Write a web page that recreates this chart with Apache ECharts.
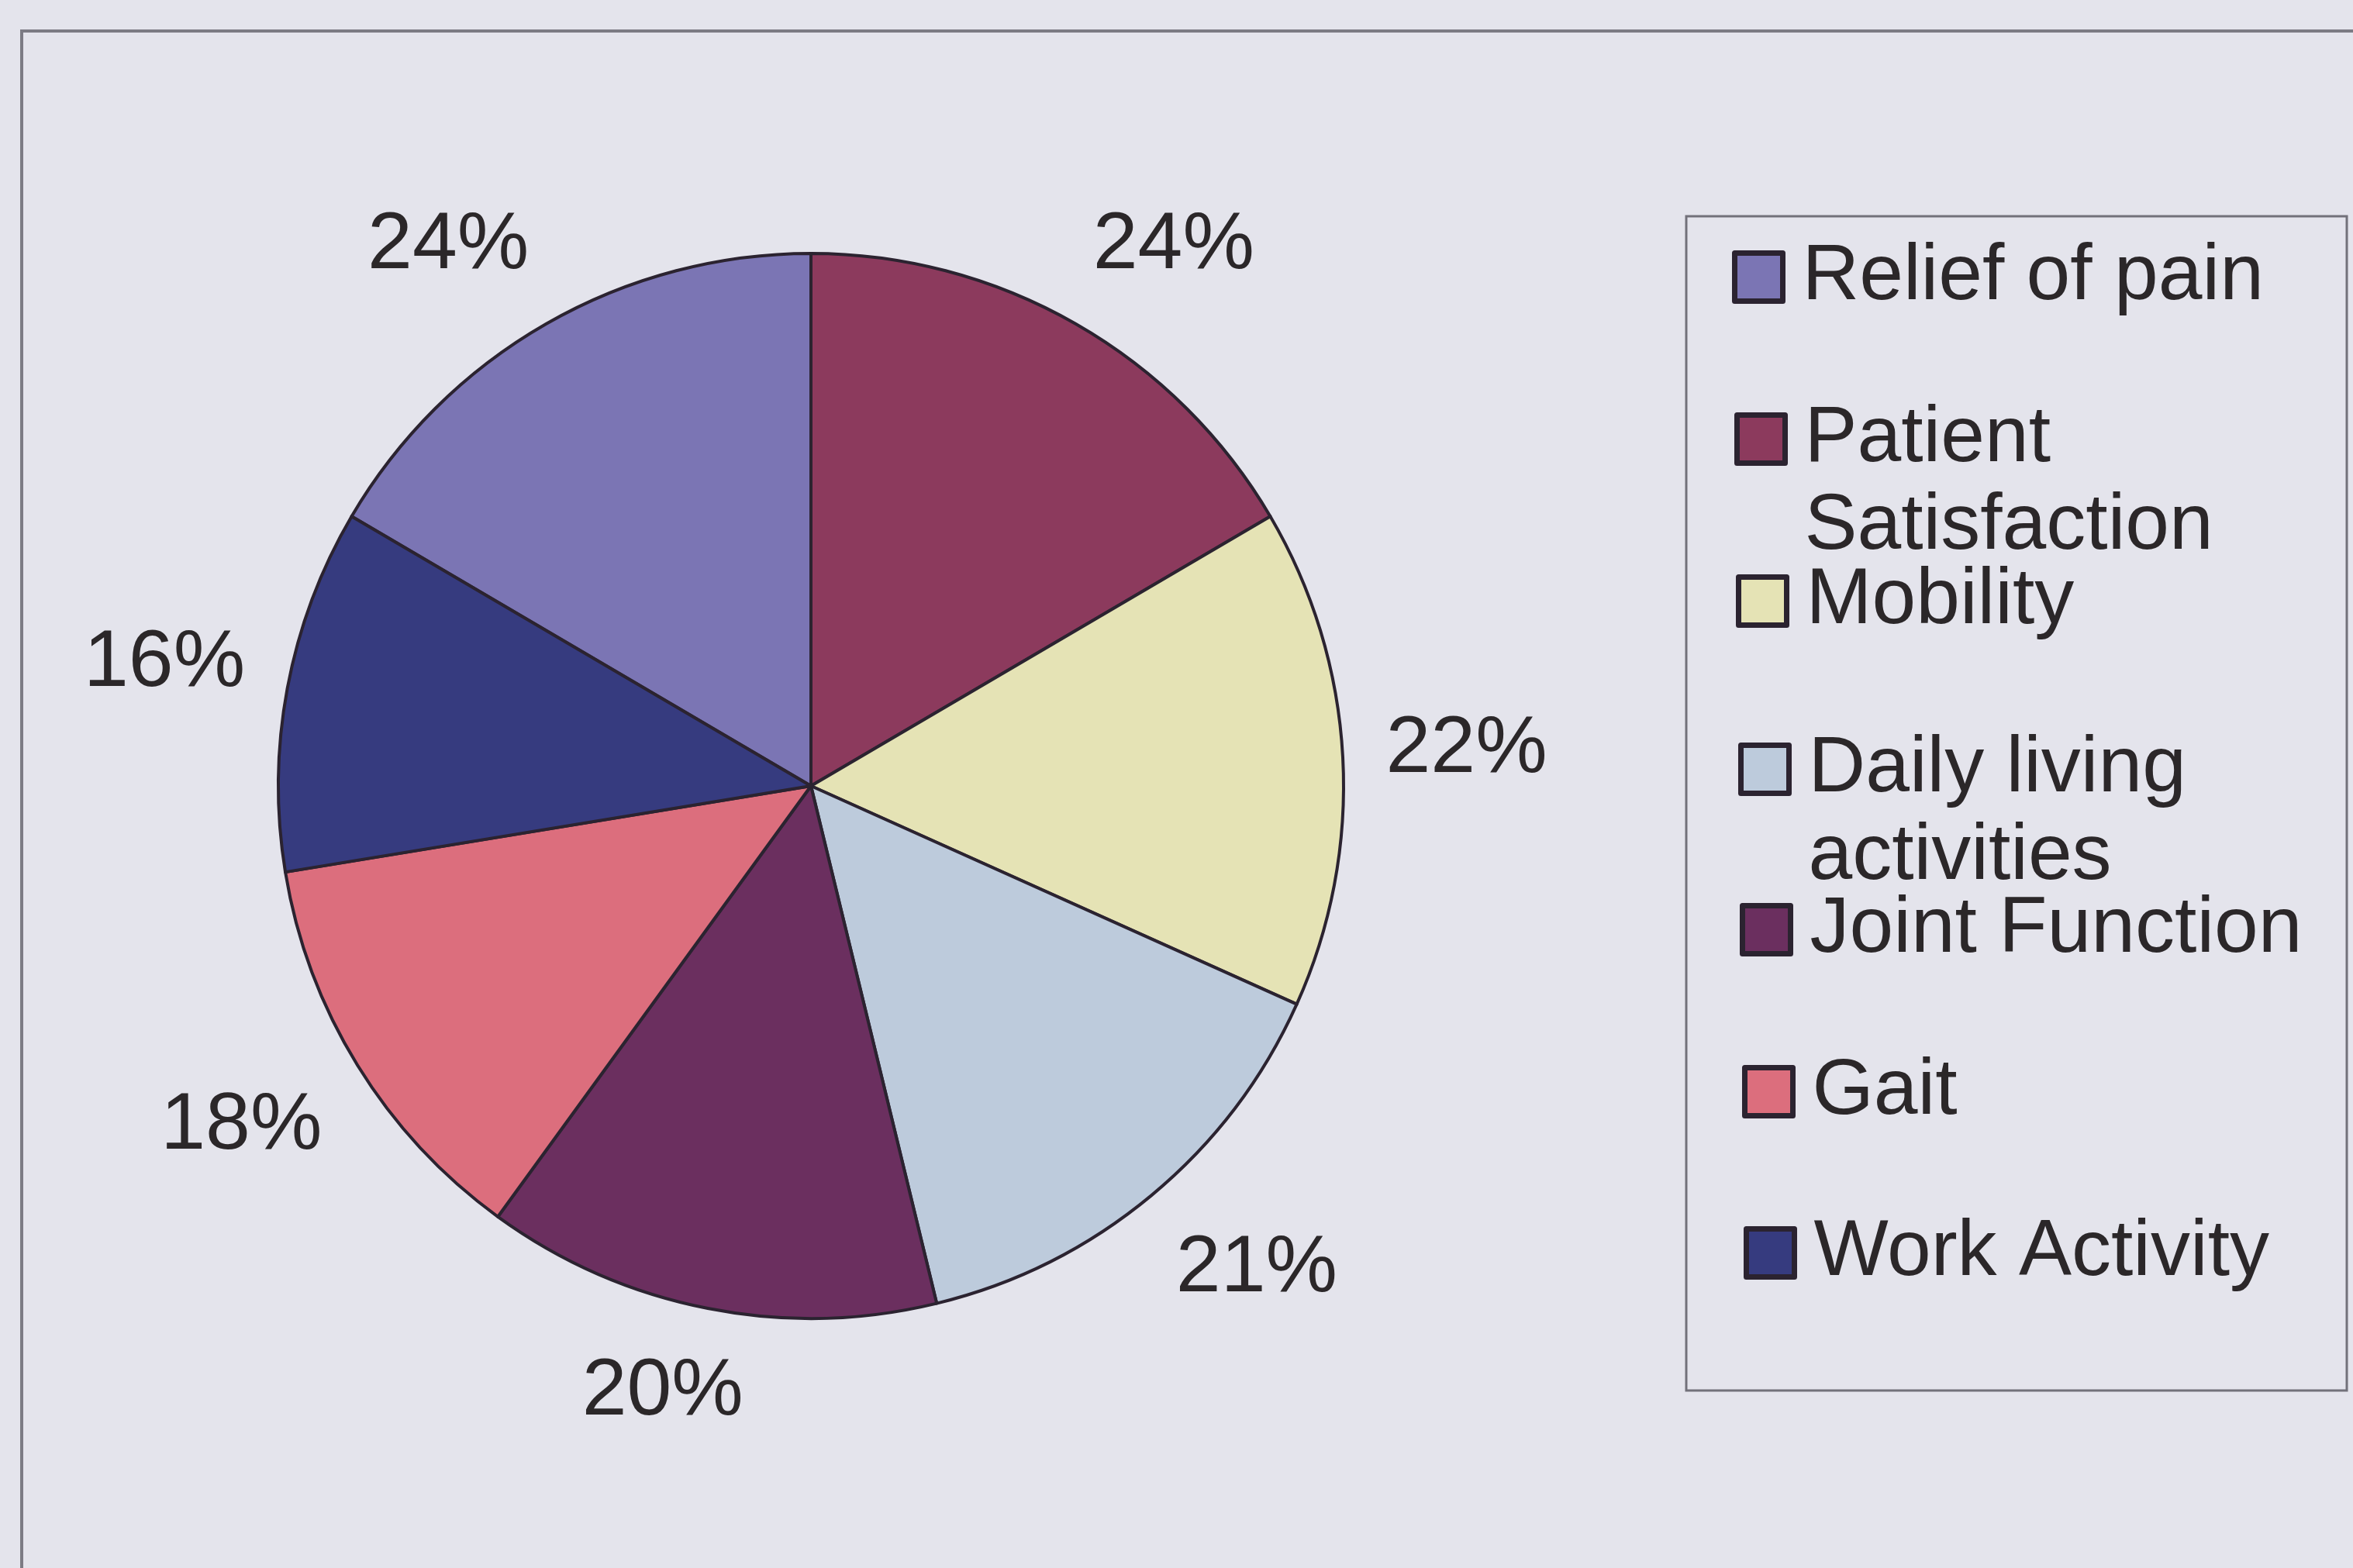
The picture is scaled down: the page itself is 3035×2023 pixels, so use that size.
<!DOCTYPE html>
<html>
<head>
<meta charset="utf-8">
<script src="https://cdn.jsdelivr.net/npm/echarts@6/dist/echarts.min.js"></script>
<style>
  html, body { margin: 0; padding: 0; background: #e4e4ec; }
  #chart { width: 3035px; height: 2023px; }
</style>
</head>
<body>
<div id="chart"></div>
<script>
// Outcome domains and their shares (%)
const categories = ['Relief of pain', 'Patient Satisfaction', 'Mobility', 'Daily living activities', 'Joint Function', 'Gait', 'Work Activity'];
const values = [24, 24, 22, 21, 20, 18, 16];
const colors = ['#7b75b4', '#8c3a5d', '#e5e3b5', '#bdcbdc', '#6b2f5f', '#dc6e7d', '#363b7f'];

// Vertical centre of the first text line of each legend entry
const legendCenters = [352, 561, 770, 987, 1194, 1403, 1611];

const FONT = '"Liberation Sans", Arial, Helvetica, sans-serif';
const TEXT = '#2b2729';
const EDGE = '#2b2330';

const total = values.reduce((a, b) => a + b, 0);
// First slice ends at 12 o'clock, the rest run clockwise from there
const startAngle = 90 + values[0] / total * 360;

const pieCenter = [1046, 1014];
const pieRadius = 687;
const labelRadius = 750;

const SWATCH = 62;
const LINE_H = 113;

const wrapName = name => name.replace('Patient ', 'Patient\n').replace('living ', 'living\n');

const slices = categories.map((name, i) => ({ name, value: values[i], itemStyle: { color: colors[i] } }));

const legends = categories.map((name, i) => {
  const lines = wrapName(name).split('\n').length;
  // the icon box grows with the text so the swatch stays level with the first line
  const boxH = SWATCH + (lines - 1) * LINE_H;
  return {
    data: [name],
    orient: 'vertical',
    left: 2234 + Math.round((legendCenters[i] - legendCenters[0]) * 0.012),
    top: legendCenters[i] - 51,
    padding: 0,
    itemWidth: SWATCH,
    itemHeight: boxH,
    icon: 'path://M0,0H' + SWATCH + 'V' + SWATCH + 'H0Z' + (boxH > SWATCH ? 'M0,' + boxH : ''),
    selectedMode: false,
    itemStyle: { borderColor: EDGE, borderWidth: 7 },
    formatter: wrapName,
    textStyle: {
      fontFamily: FONT,
      fontSize: 102,
      lineHeight: LINE_H,
      color: TEXT,
      padding: [0, 0, 0, 20]
    }
  };
});

const clamp = v => Math.max(-1, Math.min(1, v));

const chart = echarts.init(document.getElementById('chart'), null, { renderer: 'canvas' });
chart.setOption({
  backgroundColor: '#e4e4ec',
  animation: false,
  color: colors,
  graphic: [
    {
      type: 'rect', z: -1,
      shape: { x: 28, y: 40, width: 3200, height: 2200 },
      style: { fill: 'none', stroke: '#7c7b84', lineWidth: 4 }
    },
    {
      type: 'rect', z: -1,
      shape: { x: 2175, y: 279, width: 852, height: 1515 },
      style: { fill: 'none', stroke: '#72717a', lineWidth: 3 }
    }
  ],
  legend: legends,
  series: [
    {
      name: 'Outcome domains',
      type: 'pie',
      center: pieCenter,
      radius: pieRadius,
      startAngle: startAngle,
      clockwise: true,
      silent: true,
      z: 3,
      itemStyle: { borderColor: EDGE, borderWidth: 4 },
      label: { show: false },
      labelLine: { show: false },
      emphasis: { disabled: true },
      data: slices
    },
    {
      // Transparent ring just outside the pie; its mid-radius anchors the percentage labels
      name: 'Labels',
      type: 'pie',
      center: pieCenter,
      radius: [pieRadius, 2 * labelRadius - pieRadius],
      startAngle: startAngle,
      clockwise: true,
      silent: true,
      z: 2,
      itemStyle: { color: 'rgba(0,0,0,0)', borderWidth: 0 },
      label: {
        show: true,
        position: 'inside',
        formatter: '{c}%',
        fontFamily: FONT,
        fontSize: 104,
        color: TEXT
      },
      labelLine: { show: false },
      // push each label box outward so its inner corner sits on the anchor
      labelLayout: function (params) {
        const r = params.labelRect;
        const dxC = r.x + r.width / 2 - pieCenter[0];
        const dyC = r.y + r.height / 2 - pieCenter[1];
        const d = Math.sqrt(dxC * dxC + dyC * dyC) || 1;
        return {
          dx: r.width * 0.45 * clamp(2.5 * dxC / d),
          dy: r.height * 0.42 * clamp(2.5 * dyC / d)
        };
      },
      emphasis: { disabled: true },
      data: categories.map((name, i) => ({ name, value: values[i] }))
    }
  ]
});
</script>
</body>
</html>
